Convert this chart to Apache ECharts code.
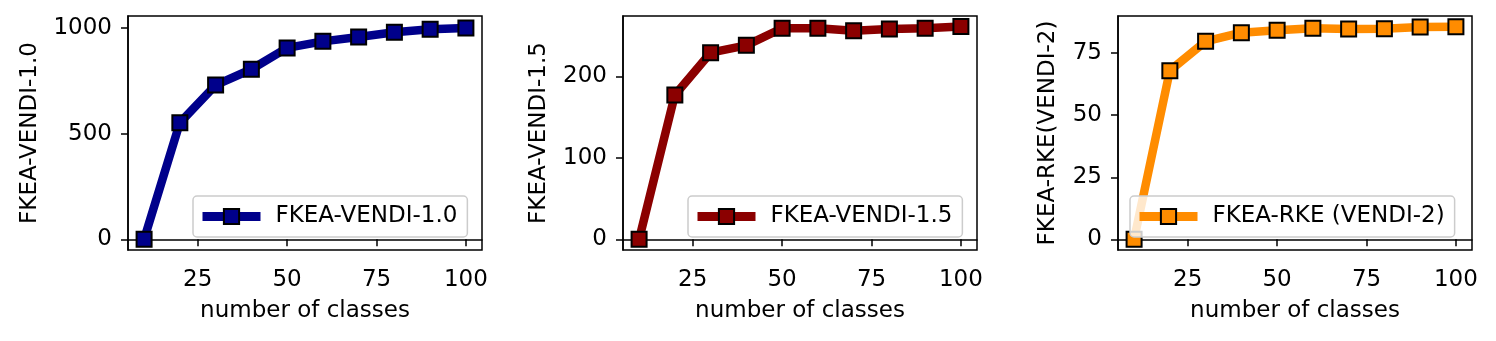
<!DOCTYPE html>
<html><head><meta charset="utf-8">
<script src="https://cdn.jsdelivr.net/npm/echarts@6/dist/echarts.min.js"></script>
<style>html,body{margin:0;padding:0;background:#fff}#c{width:1496px;height:341px}</style>
</head><body><div id="c"></div>
<script>
const classes = [10, 20, 30, 40, 50, 60, 70, 80, 90, 100];
const vendi10 = [0, 552, 730, 805, 906, 937, 958, 980, 994, 1000];
const vendi15 = [0, 177, 229, 238, 259, 259, 256, 258, 259, 261];
const rke = [0, 67.9, 79.7, 83.2, 84.2, 85.0, 84.7, 84.8, 85.5, 85.6];
const xTicks = [25, 50, 75, 100];
const yTicks1 = [0, 500, 1000];
const yTicks2 = [0, 100, 200];
const yTicks3 = [0, 25, 50, 75];
const names = ['FKEA-VENDI-1.0', 'FKEA-VENDI-1.5', 'FKEA-RKE (VENDI-2)'];
const yNames = ['FKEA-VENDI-1.0', 'FKEA-VENDI-1.5', 'FKEA-RKE(VENDI-2)'];
const colors = ['#00008B', '#8B0000', '#FF8C00'];

const FONT = 'DejaVu Sans';
const FS = 23;
const panels = [
  {left: 128, data: vendi10, ticks: yTicks1, ymin: -50.35, ymax: 1057, gap: 86, legendLeft: 193},
  {left: 623, data: vendi15, ticks: yTicks2, ymin: -13.05, ymax: 274, gap: 72, legendLeft: 688},
  {left: 1118, data: rke, ticks: yTicks3, ymin: -4.28, ymax: 89.9, gap: 58, legendLeft: 1130}
];
const grids = [], xAxes = [], yAxes = [], series = [], legends = [];
panels.forEach((p, i) => {
  grids.push({left: p.left, top: 16, width: 354, height: 234, show: true, borderColor: '#000', borderWidth: 1.5, backgroundColor: 'transparent'});
  xAxes.push({
    type: 'value', gridIndex: i, min: 5.5, max: 104.5,
    name: 'number of classes', nameLocation: 'middle', nameGap: 50,
    nameTextStyle: {fontFamily: FONT, fontSize: FS, color: '#000'},
    axisLine: {show: true, lineStyle: {color: '#000', width: 1.5}},
    axisTick: {show: true, customValues: xTicks, length: 7, lineStyle: {color: '#000', width: 1.5}},
    axisLabel: {customValues: xTicks, margin: 19, fontFamily: FONT, fontSize: FS, color: '#000', formatter: v => String(v)},
    splitLine: {show: false}
  });
  yAxes.push({
    type: 'value', gridIndex: i, min: p.ymin, max: p.ymax,
    name: yNames[i], nameLocation: 'middle', nameGap: p.gap,
    nameTextStyle: {fontFamily: FONT, fontSize: FS, color: '#000'},
    axisLine: {show: true, lineStyle: {color: '#000', width: 1.5}},
    axisTick: {show: true, customValues: p.ticks, length: 7, lineStyle: {color: '#000', width: 1.5}},
    axisLabel: {customValues: p.ticks, margin: 16, fontFamily: FONT, fontSize: FS, color: '#000', formatter: v => String(v)},
    splitLine: {show: false}
  });
  series.push({
    name: names[i], type: 'line', xAxisIndex: i, yAxisIndex: i,
    data: classes.map((c, k) => [c, p.data[k]]),
    symbol: 'rect', symbolSize: 15, showAllSymbol: true,
    lineStyle: {color: colors[i], width: 8.5},
    itemStyle: {color: colors[i], borderColor: '#000', borderWidth: 2},
    emphasis: {disabled: true}, animation: false, clip: false
  });
  legends.push({
    data: [names[i]], left: p.legendLeft, top: 196, orient: 'horizontal',
    itemWidth: 58, itemHeight: 19, padding: [9, 10, 9, 5],
    backgroundColor: 'rgba(255,255,255,0.8)', borderColor: '#ccc', borderWidth: 1.5, borderRadius: 4,
    textStyle: {fontFamily: FONT, fontSize: FS, color: '#000', padding: [0, 0, 0, 10]},
    itemStyle: {borderColor: '#000', borderWidth: 2},
    lineStyle: {width: 9},
    selectedMode: false, z: 10
  });
});
const chart = echarts.init(document.getElementById('c'), null, {renderer: 'canvas'});
chart.setOption({animation: false, grid: grids, xAxis: xAxes, yAxis: yAxes, series: series, legend: legends});
</script></body></html>
